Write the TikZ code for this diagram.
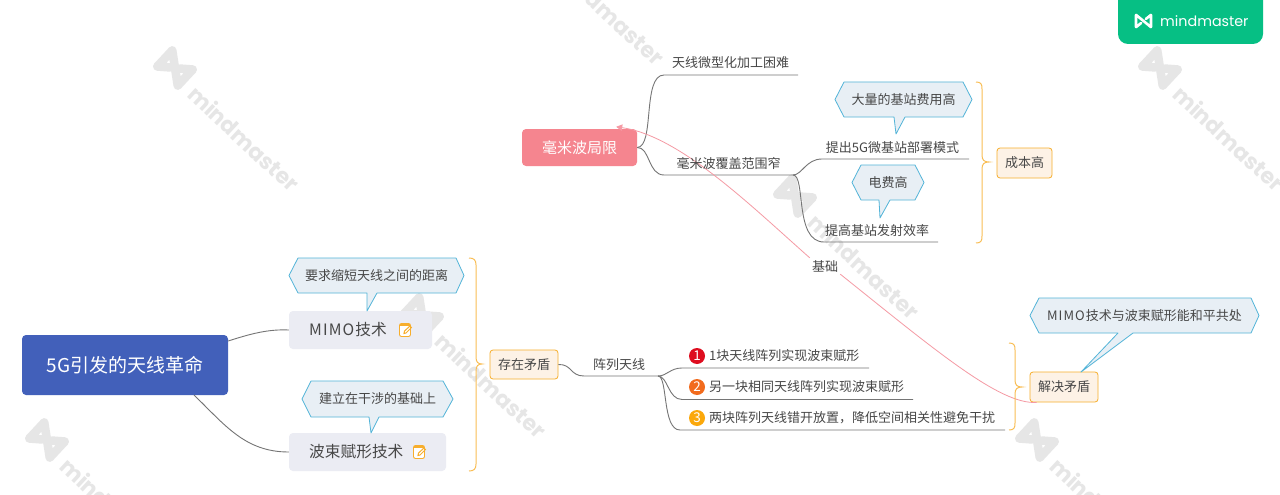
\documentclass[tikz,border=0pt]{standalone}
\usepackage{fontspec}
\setmainfont{Noto Sans CJK SC}
\newfontfamily\wmfont{Poppins}
\usetikzlibrary{arrows.meta}
\definecolor{txt}{HTML}{474747}
\definecolor{rootc}{HTML}{4260BA}
\definecolor{subc}{HTML}{EBECF3}
\definecolor{pinkc}{HTML}{F5858F}
\definecolor{creamc}{HTML}{FDF2E6}
\definecolor{orangec}{HTML}{F7AE2D}
\definecolor{bracec}{HTML}{F9BE55}
\definecolor{callc}{HTML}{E8EFF5}
\definecolor{callb}{HTML}{52B4D8}
\definecolor{linkc}{HTML}{757575}
\definecolor{relc}{HTML}{F59AA4}
\definecolor{badgec}{HTML}{06BF84}
\definecolor{wmc}{HTML}{E6E6E6}
\definecolor{numa}{HTML}{DE0D1F}
\definecolor{numb}{HTML}{F26B1D}
\definecolor{numc}{HTML}{FBA80B}
\newcommand{\lsp}{\hspace{1.1pt}}
\tikzset{
  x=1pt,y=-1pt,
  lab/.style={inner sep=0pt,text=txt,font=\fontsize{13}{15}\selectfont},
  sublab/.style={inner sep=0pt,text=txt,font=\fontsize{15.7}{17}\selectfont},
  rootbox/.style={fill=rootc,rounded corners=4pt,text=white,inner sep=0pt,font=\fontsize{19}{21}\selectfont},
  pinkbox/.style={fill=pinkc,rounded corners=4pt,text=white,inner sep=0pt,font=\fontsize{15}{17}\selectfont},
  subbox/.style={fill=subc,rounded corners=4pt,inner sep=0pt},
  creambox/.style={fill=creamc,draw=orangec,line width=0.8pt,rounded corners=3pt,text=txt,inner sep=0pt,font=\fontsize{13}{15}\selectfont},
  link/.style={draw=linkc,line width=0.9pt},
  rel/.style={draw=relc,line width=0.8pt},
  bracel/.style={draw=bracec,line width=1pt},
  callout/.style={fill=callc,draw=callb,line width=0.8pt,line join=round},
  numdot/.style={circle,minimum size=16pt,inner sep=0pt,text=white,font=\fontsize{13.5}{13.5}\selectfont},
}
\newcommand{\hexcall}[9]{%
  \path[callout] (#1,#5/2+#6/2) -- (#2,#5) -- (#3,#5) -- (#4,#5/2+#6/2) -- (#3,#6) -- (#9,#6) -- (#8) -- (#7,#6) -- (#2,#6) -- cycle;}
\newcommand{\curly}[6]{%
  \path[bracel] (#1,#4) .. controls (#1+5,#4) and (#2,#4+2) .. (#2,#4+7) -- (#2,#5-7)
    .. controls (#2,#5-2) and (#2+2,#5) .. (#3,#5)
    .. controls (#2+2,#5) and (#2,#5+2) .. (#2,#5+7) -- (#2,#6-7)
    .. controls (#2,#6-2) and (#1+5,#6) .. (#1,#6);}
\newcommand{\noteicon}[2]{%
  \begin{scope}[shift={(#1,#2)}]
    \draw[orangec,fill=white,line width=0.9pt,rounded corners=2pt] (-5.5,-6.5) rectangle (5.5,6.5);
    \fill[orangec] (-5,-6.5) rectangle (5,-4);
    \draw[orangec,line width=1pt] (-1,3.5) -- (-0.5,1) -- (5,-4) -- (6.5,-2.5) -- (1,3) -- cycle;
  \end{scope}}
\newcommand{\logomark}[4]{%
  \begin{scope}[shift={(#1,#2)},rotate=#3]
    \draw[#4,line join=round,line cap=round,line width=8.5pt]
      (-14,-11) -- (-14,11) (14,-11) -- (14,11) (-14,-11) -- (14,11) (-14,11) -- (-4,3) (14,-11) -- (4,-3);
  \end{scope}}
\newcommand{\watermark}[2]{%
  \logomark{#1}{#2}{-43}{wmc}
  \node[rotate=-43,anchor=west,inner sep=0pt,text=wmc,font=\wmfont\bfseries\fontsize{22}{23}\selectfont]
    at (#1+17,#2+22) {mindmaster};}
\begin{document}
\begin{tikzpicture}
\useasboundingbox (0,0) rectangle (1280,495);
\fill[white] (0,0) rectangle (1280,495);
% watermarks
\watermark{175}{68}
\watermark{422}{315}
\watermark{540}{-58}
\watermark{795}{196}
\watermark{1160}{68}
\watermark{47}{440}
\watermark{1037}{440}
% badge
\fill[badgec,rounded corners=10pt] (1118,-15) rectangle (1263,44);
\begin{scope}[shift={(1143.5,21)},scale=0.34]
  \draw[white,line join=round,line cap=round,line width=2.6pt]
    (-22,-18) -- (-22,18) (22,-18) -- (22,18) (-22,-18) -- (22,18) (-22,18) -- (-7,6) (22,-18) -- (7,-6);
\end{scope}
\node[anchor=west,inner sep=0pt,text=white,font=\wmfont\fontsize{14.3}{16}\selectfont] (badgetext) at (1160,21) {mindmaster};
% main nodes
\node[rootbox,minimum width=206pt,minimum height=60pt] (root) at (125,365) {5G引发的天线革命};
\node[subbox,minimum width=143pt,minimum height=38pt] (mimo) at (360.5,330) {};
\node[sublab,anchor=west] (mimotext) at (309,330) {M\lsp I\lsp M\lsp O\lsp 技术};
\noteicon{405}{330}
\node[subbox,minimum width=157pt,minimum height=38pt] (bf) at (367.5,452) {};
\node[sublab,anchor=west] (bftext) at (309,452) {波束赋形技术};
\noteicon{419}{452}
\node[pinkbox,minimum width=115pt,minimum height=37pt] (mmw) at (579.5,147.5) {毫米波局限};
\node[creambox,minimum width=68pt,minimum height=29pt] (mao) at (524,364.5) {存在矛盾};
\node[creambox,minimum width=68pt,minimum height=30pt] (jj) at (1064,387) {解决矛盾};
\node[creambox,minimum width=55pt,minimum height=30pt] (cost) at (1024.5,163) {成本高};
% free ends of the branch lines
\coordinate (a0) at (658,376);
\coordinate (a1e) at (869,368);
\coordinate (a2e) at (913,399.5);
\coordinate (a3e) at (1005,430);
\coordinate (m1e) at (798,75);
\coordinate (m2e) at (793,175);
\coordinate (c1e) at (969,159);
\coordinate (c2e) at (938,242);
% connectors
\path[link] (root.east |- 0,341) .. controls (250,334) and (268,329) .. (mimo.west);
\path[link] (194,395) .. controls (225,425) and (245,452) .. (bf.west);
\path[link] (mao.east) .. controls (572,364) and (570,376) .. (584,376) -- (a0);
\path[link] (a0) .. controls (667,376) and (670,368) .. (682,368) -- (a1e);
\path[link] (a0) .. controls (668,376) and (668,399.5) .. (682,399.5) -- (a2e);
\path[link] (a0) .. controls (668,376) and (662,430) .. (680,430) -- (a3e);
\path[link] (mmw.east) .. controls (655,147) and (642,75) .. (664,75) -- (m1e);
\path[link] (mmw.east) .. controls (650,147) and (648,175) .. (664,175) -- (m2e);
\path[link] (m2e) .. controls (802,175) and (806,159) .. (822,159) -- (c1e);
\path[link] (m2e) .. controls (806,175) and (794,242) .. (824,242) -- (c2e);
% relationship
\node[lab,inner sep=2pt] (reltext) at (825,266) {基础};
\path[rel] ([xshift=7pt]jj.south west)
   .. controls (1000,405) and (935,350) .. (reltext.south east);
\path[rel,-{Triangle[length=6pt,width=6.5pt]}] (reltext.north west)
   .. controls (750,205) and (680,136) .. ([xshift=-21pt,yshift=2pt]mmw.north east);
% branch labels
\node[lab] (t1) at (730.5,63) {天线微型化加工困难};
\node[lab] (t2) at (728.5,163) {毫米波覆盖范围窄};
\node[lab] (t3) at (892.5,148) {提出5G微基站部署模式};
\node[lab] (t4) at (877,231) {提高基站发射效率};
\node[lab] (t5) at (619,365) {阵列天线};
\node[numdot,fill=numa] (n1) at (697,356) {1};
\node[numdot,fill=numb] (n2) at (697,387) {2};
\node[numdot,fill=numc] (n3) at (697,418) {3};
\node[lab,anchor=west] (t6) at (709,356) {1块天线阵列实现波束赋形};
\node[lab,anchor=west] (t7) at (709,387) {另一块相同天线阵列实现波束赋形};
\node[lab,anchor=west] (t8) at (709,418) {两块阵列天线错开放置，降低空间相关性避免干扰};
% callouts
\hexcall{289}{298}{456}{464}{258}{293}{367}{367,311}{377}
\node[lab] (c1) at (376.5,275.5) {要求缩短天线之间的距离};
\hexcall{302}{311}{443}{453}{381}{417}{369}{371,433}{379}
\node[lab] (c2) at (377.5,399) {建立在干涉的基础上};
\hexcall{835}{844}{963}{972}{82}{117}{894}{896,134}{905}
\node[lab] (c3) at (903.5,100) {大量的基站费用高};
\hexcall{852}{861}{915}{924}{165}{200}{879}{880,218}{890}
\node[lab] (c4) at (888,183) {电费高};
\hexcall{1030}{1039}{1251}{1259}{298}{333}{1118}{1081,372}{1133}
\node[lab] (c5) at (1144.5,316) {M\lsp I\lsp M\lsp O\lsp 技术与波束赋形能和平共处};
% braces
\curly{469}{476}{482}{258}{364}{471}
\curly{976}{982}{989}{82}{162}{243}
\curly{1009}{1015}{1022}{343}{387}{430}
\end{tikzpicture}
\end{document}
